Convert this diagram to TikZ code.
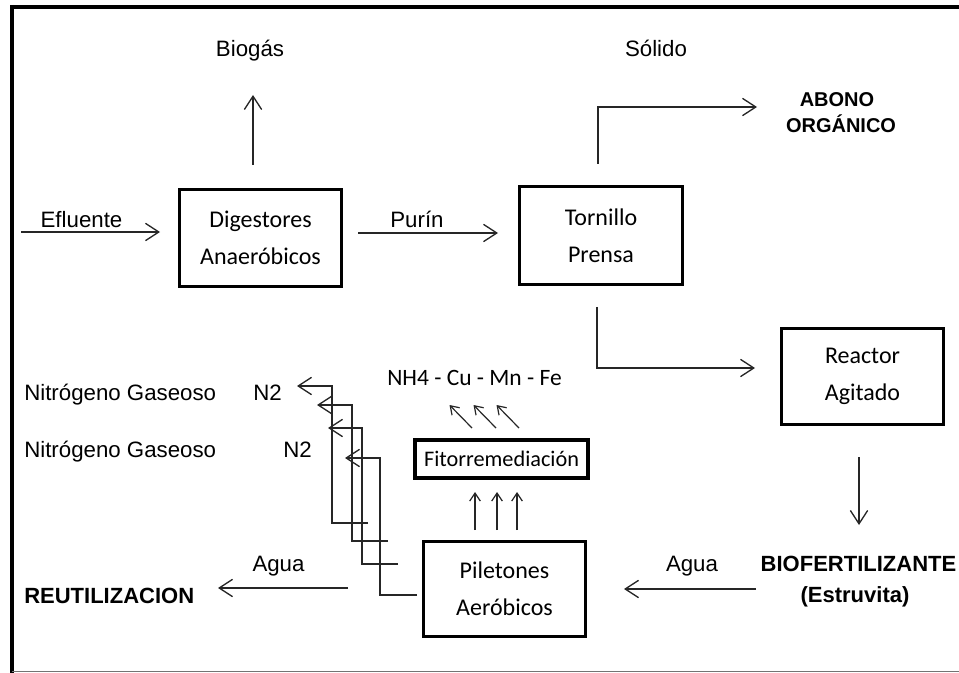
\documentclass[tikz,border=0pt]{standalone}
\usepackage{fontspec}
\setmainfont{Liberation Sans}
\newfontfamily\calib{Carlito}
\usetikzlibrary{arrows.meta}
\begin{document}
\begin{tikzpicture}[x=0.75pt,y=-0.75pt,
  arr/.style={draw=black!85, line width=1pt, -{Straight Barb[length=10pt,width=13pt]}},
  sarr/.style={draw=black!85, line width=0.9pt, -{Straight Barb[length=6pt,width=8pt]}},
  box/.style={draw=black, line width=2.4pt, inner sep=0pt, font=\calib\fontsize{18}{28}\selectfont, align=center},
  lbl/.style={inner sep=0pt, font=\fontsize{16.7}{20}\selectfont},
  clbl/.style={inner sep=0pt, font=\calib\fontsize{17.6}{20}\selectfont},
  blbl/.style={inner sep=0pt, font=\bfseries\fontsize{16.5}{20}\selectfont},
  ablbl/.style={inner sep=0pt, font=\bfseries\fontsize{15}{18}\selectfont},
  frame/.style={draw=black, line width=3pt},
]
\useasboundingbox (0,0) rectangle (959,673);
% frame
\draw[frame] (10,7) -- (959,7);
\draw[frame] (12,5) -- (12,673);
\draw[draw=black!55, line width=1.2pt] (12,671.5) -- (959,671.5);

% boxes
\node[box, minimum width=121.5pt, minimum height=72.75pt] (dig) at (260.5,238) {Digestores\\Anaeróbicos};
\node[box, minimum width=122.25pt, minimum height=73.5pt] (tor) at (601,235.5) {Tornillo\\Prensa};
\node[box, minimum width=121.5pt, minimum height=72pt] (rea) at (862.5,376.5) {Reactor\\Agitado};
\node[box, minimum width=121.5pt, minimum height=71.25pt] (pil) at (504.5,589) {Piletones\\Aeróbicos};
\node[box, line width=3pt, minimum width=129.75pt, minimum height=28.5pt, font=\calib\fontsize{16.7}{20}\selectfont] (fit) at (501.5,459) {Fitorremediación};

% labels
\node[lbl, anchor=base] (biogas) at (250,57) {Biogás};
\node[lbl, anchor=base] (solido) at (656,57) {Sólido};
\node[ablbl, anchor=base] (abono) at (837,107) {ABONO};
\node[ablbl, anchor=base] (organico) at (841,133) {ORGÁNICO};
\node[lbl, anchor=base] (efluente) at (81.5,228) {Efluente};
\node[lbl, anchor=base] (purin) at (417,228) {Purín};
\node[clbl, anchor=base] (metales) at (474.5,385) {NH4 - Cu - Mn - Fe};
\node[blbl, anchor=base] (biofert) at (858.5,571) {BIOFERTILIZANTE};
\node[blbl, anchor=base] (estruvita) at (855,602) {(Estruvita)};
\node[lbl, anchor=base] (agua1) at (692,571) {Agua};
\node[lbl, anchor=base] (agua2) at (278.5,571) {Agua};
\node[blbl, anchor=base west] (reutil) at (24,603) {REUTILIZACION};
\node[lbl, anchor=base west] (nitro1) at (24,400) {Nitrógeno Gaseoso};
\node[lbl, anchor=base west] (nitro2) at (24,457) {Nitrógeno Gaseoso};
\node[lbl, anchor=base west] (n2a) at (253,400) {N2};
\node[lbl, anchor=base west] (n2b) at (283,457) {N2};

% connector end points
\coordinate (eflS) at (21,232);   \coordinate (eflE) at (160,232);
\coordinate (purS) at (358,233);  \coordinate (purE) at (498,233);
\coordinate (bioS) at (253,165);  \coordinate (bioE) at (253,95);
\coordinate (solS) at (598,164);  \coordinate (solC) at (598,107); \coordinate (solE) at (757,107);
\coordinate (liqS) at (597,307);  \coordinate (liqC) at (597,368); \coordinate (liqE) at (755,368);
\coordinate (reaS) at (859,457);  \coordinate (reaE) at (859,525);
\coordinate (ag1S) at (756,589);  \coordinate (ag1E) at (624,589);
\coordinate (ag2S) at (348,588);  \coordinate (ag2E) at (218,588);

% main arrows
\draw[arr] (eflS) -- (eflE);
\draw[arr] (purS) -- (purE);
\draw[arr] (bioS) -- (bioE);
\draw[arr] (solS) -- (solC) -- (solE);
\draw[arr] (liqS) -- (liqC) -- (liqE);
\draw[arr] (reaS) -- (reaE);
\draw[arr] (ag1S) -- (ag1E);
\draw[arr] (ag2S) -- (ag2E);

% up arrows Piletones -> Fitorremediacion
\foreach \i/\x in {1/475,2/497,3/517}{
  \coordinate (up\i S) at (\x,530); \coordinate (up\i E) at (\x,492);
  \draw[sarr] (up\i S) -- (up\i E);
}
% diagonal arrows Fitorremediacion -> metals
\foreach \i/\x in {1/472,2/496,3/519}{
  \coordinate (dg\i S) at (\x,428); \coordinate (dg\i E) at (\x-22.5,405);
  \draw[sarr] (dg\i S) -- (dg\i E);
}

% N2 connectors
\foreach \i/\sx/\vx/\ly/\hy/\ex in {1/368/332/523/386/297, 2/388/352/541/405/317, 3/398/362/564/428/328, 4/417/380/595/458/345}{
  \coordinate (nS\i) at (\sx,\ly);
  \coordinate (nA\i) at (\vx,\ly);
  \coordinate (nB\i) at (\vx,\hy);
  \coordinate (nE\i) at (\ex,\hy);
  \draw[arr] (nS\i) -- (nA\i) -- (nB\i) -- (nE\i);
}
\end{tikzpicture}
\end{document}
